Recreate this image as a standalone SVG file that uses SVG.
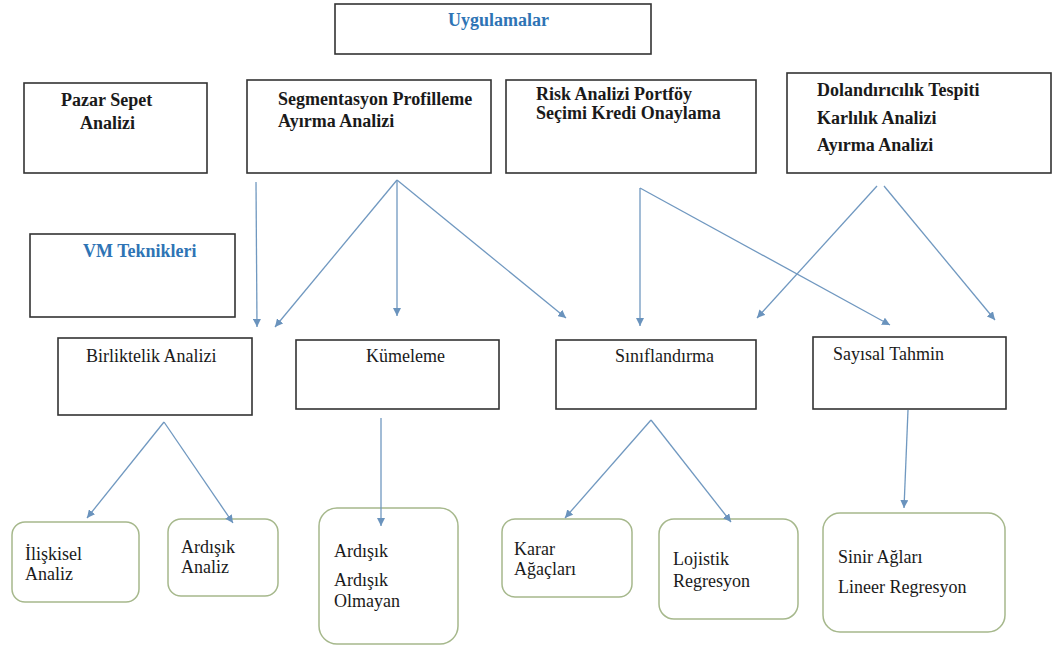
<svg xmlns="http://www.w3.org/2000/svg" width="1054" height="645" viewBox="0 0 1054 645">
<style>
.box{fill:#ffffff;stroke:#333333;stroke-width:1.6}
.rbox{fill:#ffffff;stroke:#a6b88c;stroke-width:1.5}
.tb{font-family:"Liberation Serif","DejaVu Serif",serif;font-size:18px;font-weight:bold;fill:#1a1a1a}
.tblue{font-family:"Liberation Serif","DejaVu Serif",serif;font-size:18px;font-weight:bold;fill:#2e74b5}
.t{font-family:"Liberation Serif","DejaVu Serif",serif;font-size:18px;fill:#1a1a1a}
.conn line{stroke:#7098c0;stroke-width:1.3;fill:none;marker-end:url(#ah)}
</style>
<defs>
<marker id="ah" markerUnits="userSpaceOnUse" markerWidth="9" markerHeight="8" refX="8" refY="4" orient="auto">
<path d="M0,0 L8,4 L0,8 z" fill="#6a93bd"/>
</marker>
</defs>
<rect width="1054" height="645" fill="#ffffff"/>

<g id="uygulamalar">
<rect class="box" x="335" y="4" width="316" height="50"/>
<text class="tblue" x="448" y="26">Uygulamalar</text>
</g>

<g id="pazar">
<rect class="box" x="24" y="83" width="183" height="90"/>
<text class="tb" x="61" y="106">Pazar Sepet</text>
<text class="tb" x="80" y="129">Analizi</text>
</g>

<g id="segmentasyon">
<rect class="box" x="247" y="80" width="244" height="93"/>
<text class="tb" x="278" y="105">Segmentasyon Profilleme</text>
<text class="tb" x="278" y="127">Ayırma Analizi</text>
</g>

<g id="risk">
<rect class="box" x="506" y="80" width="250" height="93"/>
<text class="tb" x="536" y="100">Risk Analizi Portföy</text>
<text class="tb" x="536" y="119">Seçimi Kredi Onaylama</text>
</g>

<g id="dolandiricilik">
<rect class="box" x="787" y="73" width="264" height="100"/>
<text class="tb" x="817" y="96">Dolandırıcılık Tespiti</text>
<text class="tb" x="817" y="124">Karlılık Analizi</text>
<text class="tb" x="817" y="151">Ayırma Analizi</text>
</g>

<g id="vm">
<rect class="box" x="30" y="234" width="205" height="83"/>
<text class="tblue" x="83" y="257">VM Teknikleri</text>
</g>

<g id="birliktelik">
<rect class="box" x="58" y="338" width="194" height="77"/>
<text class="t" x="86" y="362">Birliktelik Analizi</text>
</g>

<g id="kumeleme">
<rect class="box" x="296" y="340" width="203" height="69"/>
<text class="t" x="366" y="362">Kümeleme</text>
</g>

<g id="siniflandirma">
<rect class="box" x="556" y="340" width="200" height="69"/>
<text class="t" x="615" y="362">Sınıflandırma</text>
</g>

<g id="sayisal">
<rect class="box" x="813" y="337" width="193" height="72"/>
<text class="t" x="833" y="360">Sayısal Tahmin</text>
</g>

<g id="iliskisel">
<rect class="rbox" x="12" y="522" width="127" height="80" rx="13"/>
<text class="t" x="25" y="560">İlişkisel</text>
<text class="t" x="25" y="580">Analiz</text>
</g>

<g id="ardisik-analiz">
<rect class="rbox" x="168" y="519" width="110" height="77" rx="13"/>
<text class="t" x="181" y="553">Ardışık</text>
<text class="t" x="181" y="573">Analiz</text>
</g>

<g id="ardisik-olmayan">
<rect class="rbox" x="319" y="508" width="139" height="136" rx="18"/>
<text class="t" x="334" y="557">Ardışık</text>
<text class="t" x="334" y="586">Ardışık</text>
<text class="t" x="334" y="607">Olmayan</text>
</g>

<g id="karar">
<rect class="rbox" x="502" y="519" width="130" height="78" rx="13"/>
<text class="t" x="514" y="555">Karar</text>
<text class="t" x="514" y="575">Ağaçları</text>
</g>

<g id="lojistik">
<rect class="rbox" x="659" y="519" width="139" height="100" rx="15"/>
<text class="t" x="673" y="565">Lojistik</text>
<text class="t" x="673" y="587">Regresyon</text>
</g>

<g id="sinir">
<rect class="rbox" x="823" y="513" width="182" height="119" rx="17"/>
<text class="t" x="838" y="563">Sinir Ağları</text>
<text class="t" x="838" y="593">Lineer Regresyon</text>
</g>

<g id="connectors" class="conn">
<line x1="256" y1="182" x2="257" y2="327"/>
<line x1="397" y1="180" x2="275" y2="327"/>
<line x1="397" y1="180" x2="397" y2="316"/>
<line x1="397" y1="180" x2="566" y2="318"/>
<line x1="640" y1="188" x2="640" y2="326"/>
<line x1="640" y1="188" x2="890" y2="325"/>
<line x1="877" y1="186" x2="757" y2="318"/>
<line x1="884" y1="186" x2="995" y2="320"/>
<line x1="164" y1="422" x2="87" y2="518"/>
<line x1="164" y1="422" x2="233" y2="523"/>
<line x1="381" y1="418" x2="381" y2="526"/>
<line x1="651" y1="420" x2="565" y2="518"/>
<line x1="651" y1="420" x2="731" y2="522"/>
<line x1="908" y1="410" x2="904" y2="508"/>
</g>
</svg>
